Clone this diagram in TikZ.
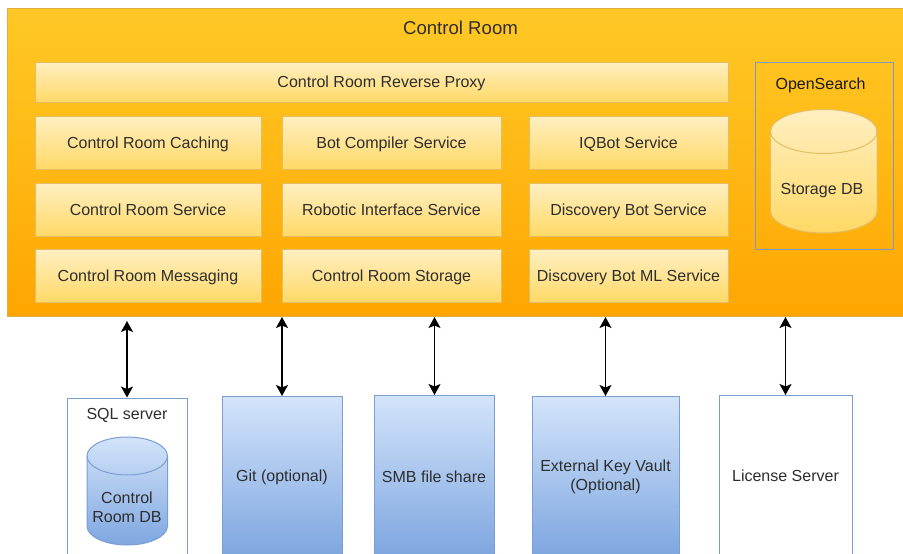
\documentclass[tikz,border=0pt]{standalone}
\usepackage{fontspec}
\setmainfont{Liberation Sans}
\usetikzlibrary{arrows.meta,positioning}
\definecolor{txt}{HTML}{2E2E2E}
\definecolor{orgline}{HTML}{DDB040}
\definecolor{ylline}{HTML}{E2BE62}
\definecolor{blline}{HTML}{7C9FD2}
\definecolor{ffc826}{HTML}{FFC826}
\definecolor{ffa500}{HTML}{FFA500}
\definecolor{ffb814}{HTML}{FFB814}
\definecolor{ffefc2}{HTML}{FFEFC2}
\definecolor{ffd966}{HTML}{FFD966}
\definecolor{d3e4fa}{HTML}{D3E4FA}
\definecolor{7ea6e0}{HTML}{7EA6E0}
\tikzset{
  frame/.style={inner sep=0pt,anchor=north west,text=txt,align=center},
  mainbox/.style={frame,draw=orgline,line width=1pt,top color=ffc826,bottom color=ffa500,middle color=ffb814},
  svc/.style={frame,anchor=center,draw=ylline,line width=1pt,top color=ffefc2,bottom color=ffd966,font=\fontsize{16}{19}\selectfont,text height=11.5pt,text depth=0pt},
  ext/.style={frame,anchor=north,draw=blline,line width=1pt,top color=d3e4fa,bottom color=7ea6e0},
  plain/.style={frame,anchor=north,draw=blline,line width=1pt,fill=white},
  label/.style={inner sep=0pt,text=txt,align=center,font=\fontsize{16}{19}\selectfont},
  link/.style={line width=1.5pt,black,{Stealth[length=11pt,width=12pt,inset=2.5pt]}-{Stealth[length=11pt,width=12pt,inset=2.5pt]}},
  cylline/.style={line width=1pt}
}
% x0 x1 ytop ybottom ry top-colour bottom-colour line-colour
\newcommand{\dbcyl}[8]{%
  \pgfmathsetmacro{\cm}{(#1+#2)/2}%
  \pgfmathsetmacro{\rx}{(#2-#1)/2}%
  \pgfmathsetmacro{\kx}{0.5523*\rx}%
  \pgfmathsetmacro{\ky}{0.5523*#5}%
  \pgfmathsetmacro{\yt}{#3+#5}%
  \pgfmathsetmacro{\yb}{#4-#5}%
  \path[cylline,draw=#8,top color=#6,bottom color=#7]
    (#1,\yt) .. controls (#1,\yt-\ky) and (\cm-\kx,#3) .. (\cm,#3)
    .. controls (\cm+\kx,#3) and (#2,\yt-\ky) .. (#2,\yt)
    -- (#2,\yb) .. controls (#2,\yb+\ky) and (\cm+\kx,#4) .. (\cm,#4)
    .. controls (\cm-\kx,#4) and (#1,\yb+\ky) .. (#1,\yb) -- cycle;
  \draw[cylline,#8] (#1,\yt) .. controls (#1,\yt+\ky) and (\cm-\kx,\yt+#5) .. (\cm,\yt+#5)
    .. controls (\cm+\kx,\yt+#5) and (#2,\yt+\ky) .. (#2,\yt);
}
\begin{document}
\begin{tikzpicture}[x=1pt,y=-1pt]
\useasboundingbox (0,0) rectangle (903,554);
\clip (0,0) rectangle (903,554);
\node[mainbox,minimum width=897pt,minimum height=308pt] (main) at (6.5,8) {};
\node[inner sep=0pt,text=txt,font=\fontsize{18.6}{22}\selectfont] (title) at (460.5,28) {Control Room};
\node[svc,minimum width=693pt,minimum height=40pt] (proxy) at (381.5,82) {Control Room Reverse Proxy};
\node[svc,minimum width=226pt,minimum height=53pt] (cache) at (148,142.5) {Control Room Caching};
\node[svc,minimum width=226pt,minimum height=53pt] (serv) at (148,209.5) {Control Room Service};
\node[svc,minimum width=226pt,minimum height=53pt] (msg) at (148,276) {Control Room Messaging};
\node[svc,minimum width=219pt,minimum height=53pt] (comp) at (391.5,142.5) {Bot Compiler Service};
\node[svc,minimum width=219pt,minimum height=53pt] (robo) at (391.5,209.5) {Robotic Interface Service};
\node[svc,minimum width=219pt,minimum height=53pt] (stor) at (391.5,276) {Control Room Storage};
\node[svc,minimum width=199pt,minimum height=53pt] (iq) at (628.5,142.5) {IQBot Service};
\node[svc,minimum width=199pt,minimum height=53pt] (disc) at (628.5,209.5) {Discovery Bot Service};
\node[svc,minimum width=199pt,minimum height=53pt] (discml) at (628.5,276) {Discovery Bot ML Service};
% OpenSearch
\node[frame,draw=blline!85!gray,line width=1.3pt,minimum width=138pt,minimum height=187pt] (os) at (755,62) {};
\node[inner sep=0pt,text=black!90,font=\fontsize{16}{19}\selectfont] (ostext) at (820.5,85.5) {OpenSearch};
\dbcyl{770.5}{877}{109.5}{233}{22}{ffefc2}{ffd966}{ylline}
\node[label] (osdb) at (822,191) {Storage DB};
% lower row
\node[plain,minimum width=120pt,minimum height=170pt] (sql) at (127,397.5) {};
\node[label] (sqltext) at (127,415.5) {SQL server};
\dbcyl{87}{167.5}{437}{545}{19}{d3e4fa}{7ea6e0}{blline}
\node[label] (sqldb) at (127,507.5) {Control\\Room DB};
\node[ext,minimum width=120pt,minimum height=159pt] (git) at (282,396) {};
\node[label] (gittext) at (282,477) {Git (optional)};
\node[ext,minimum width=120pt,minimum height=160pt] (smb) at (434.5,395) {};
\node[label] (smbtext) at (434,477) {SMB file share};
\node[ext,minimum width=147pt,minimum height=159pt] (ekv) at (605.5,396) {};
\node[label] (ekvtext) at (605.5,477) {External Key Vault\\(Optional)};
\node[plain,minimum width=133pt,minimum height=160pt] (lic) at (785.5,395) {};
\node[label] (lictext) at (785.5,475.5) {License Server};
% connectors
\draw[link] (sql.north) -- ([yshift=-4pt]sql.north |- main.south);
\draw[link] (git.north) -- (git.north |- main.south);
\draw[link] (smb.north) -- (smb.north |- main.south);
\draw[link] (ekv.north) -- (ekv.north |- main.south);
\draw[link] (lic.north) -- (lic.north |- main.south);
\end{tikzpicture}
\end{document}
